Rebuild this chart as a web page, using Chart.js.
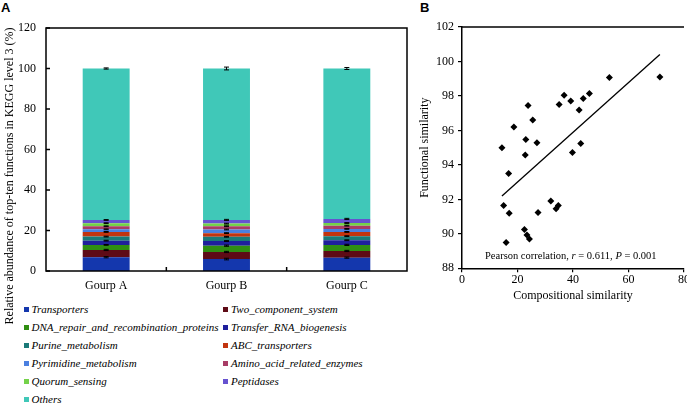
<!DOCTYPE html>
<html lang="en">
<head>
  <meta charset="UTF-8" />
  <title>KEGG functions and similarity</title>
  <script src="https://cdn.jsdelivr.net/npm/chart.js"></script>
  <style>
    html, body { margin: 0; padding: 0; background: #fff; overflow: hidden; }
    body { width: 687px; height: 404px; position: relative; color: #000;
           font-family: "Liberation Serif", "Times New Roman", Times, "DejaVu Serif", serif; }
    .panel-label { position: absolute; font: bold 13px "Liberation Sans", Arial, sans-serif; }
    #wrapA { position: absolute; left: 0; top: 0; }
    #wrapB { position: absolute; left: 410px; top: 0; }
    #ytitleA { position: absolute; left: -161px; top: 169px; width: 340px; text-align: center;
               font-size: 12px; line-height: 14px; transform: rotate(-90deg); white-space: nowrap; }
    #pearson { position: absolute; left: 485px; top: 250px; font-size: 10.5px; white-space: nowrap; }
    .leg { position: absolute; font-size: 11px; font-style: italic; white-space: nowrap; line-height: 13px; }
    .leg span { position: absolute; left: -8px; top: 4px; width: 5px; height: 5px; }
  </style>
</head>
<body>
  <div class="panel-label" style="left:1px; top:0px;">A</div>
  <div class="panel-label" style="left:420px; top:0px;">B</div>

  <div id="wrapA"><canvas id="chartA" width="430" height="300"></canvas></div>
  <div id="ytitleA">Relative abundance of top-ten functions in KEGG level 3 (%)</div>
  <div id="legendA"></div>

  <div id="wrapB"><canvas id="chartB" width="290" height="310"></canvas></div>
  <div id="pearson">Pearson correlation, <i>r</i> = 0.611, <i>P</i> = 0.001</div>

  <script>
    // ---- panel A data (percent) ----
    const groups = ["Gourp A", "Gourp B", "Gourp C"];
    const seriesNames = ["Transporters", "Two_component_system", "DNA_repair_and_recombination_proteins",
      "Transfer_RNA_biogenesis", "Purine_metabolism", "ABC_transporters", "Pyrimidine_metabolism",
      "Amino_acid_related_enzymes", "Quorum_sensing", "Peptidases", "Others"];
    const seriesColors = ["#1437ad", "#5e0b16", "#2f8e12", "#1f1f9c", "#1a7a78", "#c2340f", "#4a80e0",
      "#a83c66", "#74d24a", "#6652d0", "#40c8b8"];

    const transporters = [6.8, 5.9, 6.6];
    const twoComponent = [3.6, 3.5, 3.3];
    const dnaRepair = [2.5, 3.1, 3.0];
    const transferRna = [2.1, 2.3, 2.3];
    const purine = [2.0, 2.1, 2.0];
    const abcTransporters = [2.3, 1.8, 2.1];
    const pyrimidine = [1.3, 1.8, 1.5];
    const aminoAcid = [1.5, 1.6, 1.6];
    const quorum = [1.5, 1.3, 1.3];
    const peptidases = [1.6, 1.8, 2.0];
    const others = [74.8, 74.8, 74.3];

    // standard errors per group, same order as the series
    const errA = [0.3, 0.3, 0.2, 0.2, 0.2, 0.2, 0.2, 0.2, 0.2, 0.2, 0.3];
    const errB = [0.4, 0.3, 0.3, 0.2, 0.2, 0.2, 0.2, 0.2, 0.2, 0.3, 0.7];
    const errC = [0.3, 0.3, 0.3, 0.2, 0.2, 0.2, 0.2, 0.2, 0.2, 0.3, 0.5];

    const yTicksA = [0, 20, 40, 60, 80, 100, 120];

    // ---- panel B data ----
    const compositional = [14.4, 16.8, 18.7, 15.0, 17.0, 15.9, 22.5, 23.4, 24.3, 27.4, 32.0, 33.9, 34.7, 23.8,
      25.5, 23.0, 22.8, 27.0, 35.0, 36.8, 39.2, 43.7, 45.9, 42.2, 53.1, 71.3, 39.8, 42.8];
    const functional = [95.0, 93.5, 96.2, 91.65, 91.2, 89.5, 90.25, 89.93, 89.7, 91.24, 91.9, 91.45, 91.65, 97.44,
      96.6, 95.47, 94.58, 95.28, 97.5, 98.04, 97.7, 97.85, 98.14, 97.19, 99.07, 99.1, 94.72, 95.24];
    const trendX = [14.4, 71.3];
    const trendY = [92.2, 100.4];

    Chart.defaults.font.family = '"Liberation Serif", "Times New Roman", Times, "DejaVu Serif", serif';
    Chart.defaults.font.size = 12;
    Chart.defaults.color = "#000";
    Chart.defaults.animation = false;

    // legend for panel A, two columns
    const legendBox = document.getElementById("legendA");
    seriesNames.forEach((name, i) => {
      const col = i % 2, row = Math.floor(i / 2);
      const d = document.createElement("div");
      d.className = "leg";
      d.style.left = (col ? 231 : 31.5) + "px";
      d.style.top = (303 + row * 18) + "px";
      d.innerHTML = '<span style="background:' + seriesColors[i] + '"></span>' + name;
      legendBox.appendChild(d);
    });

    const seriesValues = [transporters, twoComponent, dnaRepair, transferRna, purine, abcTransporters,
      pyrimidine, aminoAcid, quorum, peptidases, others];
    const groupErrors = [errA, errB, errC];

    // frame, inward ticks and error bars for panel A
    const frameA = {
      id: "frameA",
      afterDatasetsDraw(chart) {
        const { ctx, chartArea: a, scales: { x, y } } = chart;
        ctx.save();
        ctx.strokeStyle = "#000";
        ctx.lineWidth = 1;
        groups.forEach((g, i) => {
          let top = 0;
          const cx = x.getPixelForValue(i);
          seriesValues.forEach((vals, d) => {
            top += vals[i];
            const e = groupErrors[i][d];
            const y1 = y.getPixelForValue(top + e), y2 = y.getPixelForValue(top - e);
            ctx.beginPath();
            ctx.moveTo(cx, y1); ctx.lineTo(cx, y2);
            ctx.moveTo(cx - 2.5, y1); ctx.lineTo(cx + 2.5, y1);
            ctx.moveTo(cx - 2.5, y2); ctx.lineTo(cx + 2.5, y2);
            ctx.stroke();
          });
        });
        ctx.lineWidth = 1.5;
        ctx.strokeRect(a.left, a.top, a.right - a.left, a.bottom - a.top);
        ctx.beginPath();
        yTicksA.forEach(v => {
          const py = y.getPixelForValue(v);
          ctx.moveTo(a.left, py); ctx.lineTo(a.left + 4, py);
        });
        for (let i = 1; i < groups.length; i++) {
          const px = (x.getPixelForValue(i - 1) + x.getPixelForValue(i)) / 2;
          ctx.moveTo(px, a.bottom); ctx.lineTo(px, a.bottom - 4);
        }
        ctx.stroke();
        ctx.restore();
      }
    };

    new Chart(document.getElementById("chartA"), {
      type: "bar",
      data: {
        labels: groups,
        datasets: seriesNames.map((name, d) => ({
          label: name,
          data: seriesValues[d],
          backgroundColor: seriesColors[d],
          borderWidth: 0,
          categoryPercentage: 1,
          barPercentage: 0.39
        }))
      },
      options: {
        responsive: false,
        layout: { padding: { top: 28, right: 23, left: 0, bottom: 0 } },
        plugins: { legend: { display: false }, tooltip: { enabled: false } },
        scales: {
          x: {
            stacked: true,
            grid: { display: false, drawTicks: false },
            border: { display: false },
            ticks: { padding: 8, font: { size: 12 } },
            afterFit: s => { s.height = 29; }
          },
          y: {
            stacked: true,
            min: 0, max: 120,
            grid: { display: false, drawTicks: false },
            border: { display: false },
            ticks: { stepSize: 20, padding: 10, font: { size: 12 } },
            afterFit: s => { s.width = 46; }
          }
        }
      },
      plugins: [frameA]
    });

    // top border line for panel B
    const frameB = {
      id: "frameB",
      afterDraw(chart) {
        const { ctx, chartArea: a } = chart;
        ctx.save();
        ctx.strokeStyle = "#000";
        ctx.lineWidth = 1.5;
        ctx.beginPath();
        ctx.moveTo(a.left, a.top); ctx.lineTo(a.right, a.top);
        ctx.stroke();
        ctx.restore();
      }
    };

    new Chart(document.getElementById("chartB"), {
      type: "scatter",
      data: {
        datasets: [
          {
            label: "samples",
            data: compositional.map((v, i) => ({ x: v, y: functional[i] })),
            pointStyle: "rectRot",
            pointRadius: 3.5,
            backgroundColor: "#000",
            borderColor: "#000",
            borderWidth: 0
          },
          {
            type: "line",
            label: "fit",
            data: trendX.map((v, i) => ({ x: v, y: trendY[i] })),
            borderColor: "#000",
            borderWidth: 1.3,
            pointRadius: 0,
            fill: false
          }
        ]
      },
      options: {
        responsive: false,
        layout: { padding: { top: 27, right: 16, left: 0, bottom: 0 } },
        plugins: { legend: { display: false }, tooltip: { enabled: false } },
        scales: {
          x: {
            type: "linear",
            min: 0, max: 80,
            grid: { drawOnChartArea: false, tickLength: 4, color: "#000", lineWidth: 1.2 },
            border: { color: "#000", width: 1.5 },
            ticks: { stepSize: 20, padding: 0 },
            title: { display: true, text: "Compositional similarity", font: { size: 12 }, padding: { top: 0, bottom: 7 } },
            afterFit: s => { s.height = 41.7; }
          },
          y: {
            min: 88, max: 102,
            grid: { drawOnChartArea: false, tickLength: 4, color: "#000", lineWidth: 1.2 },
            border: { color: "#000", width: 1.5 },
            ticks: { stepSize: 2, padding: 4 },
            title: { display: true, text: "Functional similarity", font: { size: 12 }, padding: { top: 8, bottom: 0 } },
            afterFit: s => { s.width = 52; }
          }
        }
      },
      plugins: [frameB]
    });
  </script>
</body>
</html>
